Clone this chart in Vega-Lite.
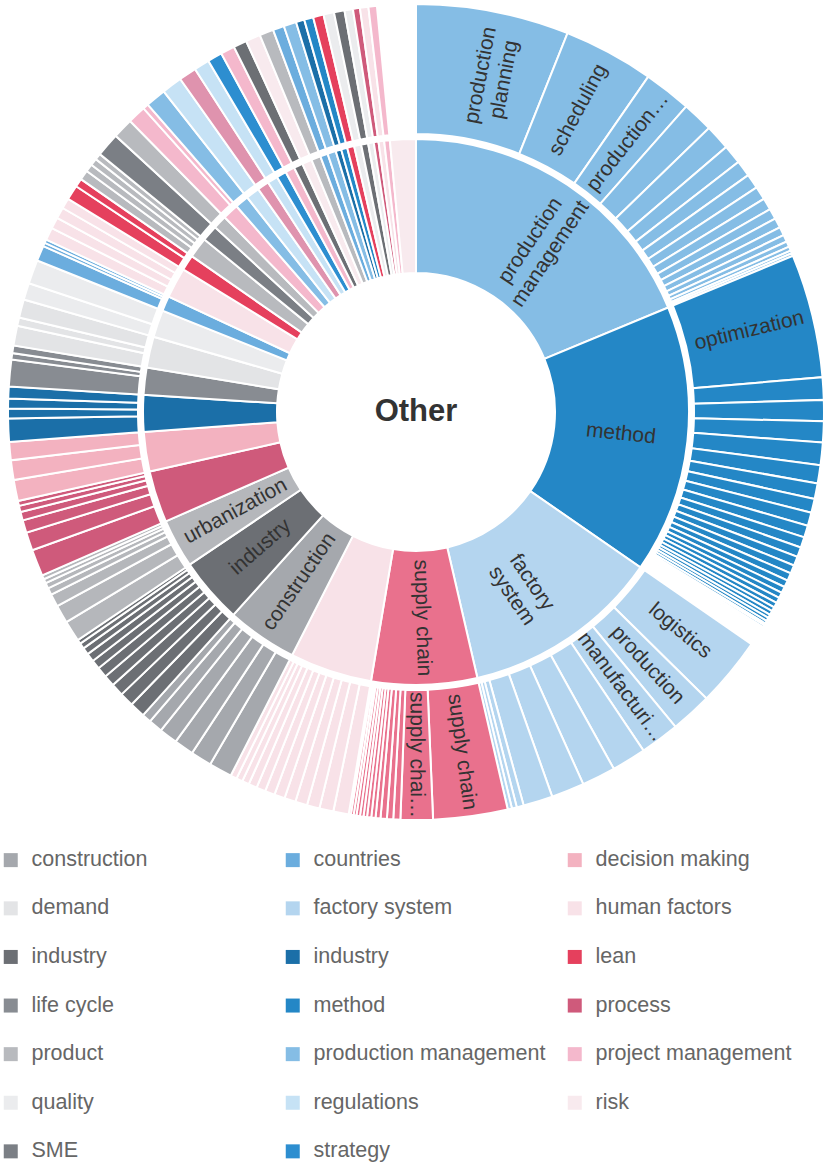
{
  "$schema": "https://vega.github.io/schema/vega-lite/v6.json",
  "width": 830,
  "height": 812,
  "padding": 0,
  "autosize": {"type": "pad"},
  "config": {"view": {"stroke": null}, "font": "Liberation Sans"},
  "datasets": {
    "parents": [
      {"p": 1, "pn": "production\nmanagement", "pk": "production management"},
      {"p": 2, "pn": "method", "pk": "method"},
      {"p": 3, "pn": "factory\nsystem", "pk": "factory system"},
      {"p": 4, "pn": "supply chain", "pk": "supply chain"},
      {"p": 5, "pn": "", "pk": "human factors"},
      {"p": 6, "pn": "construction", "pk": "construction"},
      {"p": 7, "pn": "industry", "pk": "industry"},
      {"p": 8, "pn": "urbanization", "pk": "urbanization"},
      {"p": 9, "pn": "", "pk": "process"},
      {"p": 10, "pn": "", "pk": "decision making"},
      {"p": 11, "pn": "", "pk": "industry "},
      {"p": 12, "pn": "", "pk": "life cycle"},
      {"p": 13, "pn": "", "pk": "demand"},
      {"p": 14, "pn": "", "pk": "quality"},
      {"p": 15, "pn": "", "pk": "countries"},
      {"p": 16, "pn": "", "pk": "human factors"},
      {"p": 17, "pn": "", "pk": "lean"},
      {"p": 18, "pn": "", "pk": "product"},
      {"p": 19, "pn": "", "pk": "SME"},
      {"p": 20, "pn": "", "pk": "product"},
      {"p": 21, "pn": "", "pk": "project management"},
      {"p": 22, "pn": "", "pk": "production management"},
      {"p": 23, "pn": "", "pk": "regulations"},
      {"p": 24, "pn": "", "pk": "planning"},
      {"p": 25, "pn": "", "pk": "regulations"},
      {"p": 26, "pn": "", "pk": "strategy"},
      {"p": 27, "pn": "", "pk": "project management"},
      {"p": 28, "pn": "", "pk": "industry"},
      {"p": 29, "pn": "", "pk": "risk"},
      {"p": 30, "pn": "", "pk": "product"},
      {"p": 31, "pn": "", "pk": "countries"},
      {"p": 32, "pn": "", "pk": "production management"},
      {"p": 33, "pn": "", "pk": "industry "},
      {"p": 34, "pn": "", "pk": "method"},
      {"p": 35, "pn": "", "pk": "lean"},
      {"p": 36, "pn": "", "pk": "quality"},
      {"p": 37, "pn": "", "pk": "industry"},
      {"p": 38, "pn": "", "pk": "quality"},
      {"p": 39, "pn": "", "pk": "process"},
      {"p": 40, "pn": "", "pk": "human factors"},
      {"p": 41, "pn": "", "pk": "project management"},
      {"p": 42, "pn": "", "pk": "risk"}
    ],
    "leaves": [
      {"p": 1, "n": "production\nplanning", "v": 21.8},
      {"p": 1, "n": "scheduling", "v": 12.9},
      {"p": 1, "n": "production…", "v": 6.8},
      {"p": 1, "v": 4.4}, {"p": 1, "v": 3.6}, {"p": 1, "v": 2.7}, {"p": 1, "v": 2.3}, {"p": 1, "v": 2.1},
      {"p": 1, "v": 1.9}, {"p": 1, "v": 1.7}, {"p": 1, "v": 1.5}, {"p": 1, "v": 1.4}, {"p": 1, "v": 1.2},
      {"p": 1, "v": 1.0}, {"p": 1, "v": 0.8}, {"p": 1, "v": 0.6}, {"p": 1, "v": 0.4}, {"p": 1, "v": 0.4},
      {"p": 2, "n": "optimization", "v": 17.6},
      {"p": 2, "v": 3.2}, {"p": 2, "v": 3.0}, {"p": 2, "v": 3.0}, {"p": 2, "v": 3.2}, {"p": 2, "v": 2.6},
      {"p": 2, "v": 2.2}, {"p": 2, "v": 2.0}, {"p": 2, "v": 1.9}, {"p": 2, "v": 1.7}, {"p": 2, "v": 1.5},
      {"p": 2, "v": 1.4}, {"p": 2, "v": 1.3}, {"p": 2, "v": 1.2}, {"p": 2, "v": 1.1}, {"p": 2, "v": 1.0},
      {"p": 2, "v": 0.9}, {"p": 2, "v": 0.8}, {"p": 2, "v": 0.8}, {"p": 2, "v": 0.7}, {"p": 2, "v": 0.6},
      {"p": 2, "v": 0.6}, {"p": 2, "v": 0.5}, {"p": 2, "v": 0.5}, {"p": 2, "v": 0.4}, {"p": 2, "v": 0.3},
      {"p": 2, "v": 0.3}, {"p": 2, "v": 0.2}, {"p": 2, "v": 0.2},
      {"p": 2, "gap": true, "v": 2.5},
      {"p": 3, "n": "logistics", "v": 9.9},
      {"p": 3, "n": "production", "v": 5.9},
      {"p": 3, "n": "manufacturi…", "v": 5.6},
      {"p": 3, "v": 4.9}, {"p": 3, "v": 4.8}, {"p": 3, "v": 4.7}, {"p": 3, "v": 4.2}, {"p": 3, "v": 1.0},
      {"p": 3, "v": 0.7}, {"p": 3, "v": 0.6},
      {"p": 4, "n": "supply chain", "v": 10.6},
      {"p": 4, "n": "supply chai…", "v": 4.6},
      {"p": 4, "v": 1.0}, {"p": 4, "v": 0.9}, {"p": 4, "v": 0.9}, {"p": 4, "v": 0.7}, {"p": 4, "v": 0.6},
      {"p": 4, "v": 0.6}, {"p": 4, "v": 0.5}, {"p": 4, "v": 0.5}, {"p": 4, "v": 0.5}, {"p": 4, "v": 0.4},
      {"p": 4, "v": 0.4}, {"p": 4, "v": 0.3},
      {"p": 5, "v": 2.2}, {"p": 5, "v": 2.0}, {"p": 5, "v": 1.8}, {"p": 5, "v": 1.7}, {"p": 5, "v": 1.6},
      {"p": 5, "v": 1.5}, {"p": 5, "v": 1.4}, {"p": 5, "v": 1.3}, {"p": 5, "v": 1.2}, {"p": 5, "v": 1.0},
      {"p": 5, "v": 0.9}, {"p": 5, "v": 0.9},
      {"p": 6, "v": 3.3}, {"p": 6, "v": 3.0}, {"p": 6, "v": 2.8}, {"p": 6, "v": 2.6}, {"p": 6, "v": 2.0},
      {"p": 6, "v": 1.3},
      {"p": 7, "v": 2.2}, {"p": 7, "v": 2.0}, {"p": 7, "v": 1.8}, {"p": 7, "v": 1.6}, {"p": 7, "v": 1.5},
      {"p": 7, "v": 1.3}, {"p": 7, "v": 1.2}, {"p": 7, "v": 1.0}, {"p": 7, "v": 0.8}, {"p": 7, "v": 0.6},
      {"p": 8, "v": 3.0}, {"p": 8, "v": 2.6}, {"p": 8, "v": 1.8}, {"p": 8, "v": 1.0}, {"p": 8, "v": 0.8},
      {"p": 8, "v": 0.6}, {"p": 8, "v": 0.6},
      {"p": 9, "v": 3.8}, {"p": 9, "v": 2.6}, {"p": 9, "v": 1.8}, {"p": 9, "v": 1.2}, {"p": 9, "v": 0.9},
      {"p": 9, "v": 0.7},
      {"p": 10, "v": 3.0}, {"p": 10, "v": 2.8}, {"p": 10, "v": 2.6},
      {"p": 11, "v": 3.3}, {"p": 11, "v": 1.4}, {"p": 11, "v": 1.4}, {"p": 11, "v": 1.7},
      {"p": 12, "v": 3.8}, {"p": 12, "v": 0.9}, {"p": 12, "v": 1.1},
      {"p": 13, "v": 2.8}, {"p": 13, "v": 1.2}, {"p": 13, "v": 2.6},
      {"p": 14, "v": 2.4}, {"p": 14, "v": 3.4},
      {"p": 15, "v": 2.2}, {"p": 15, "v": 0.5}, {"p": 15, "v": 0.5},
      {"p": 16, "v": 1.8}, {"p": 16, "v": 1.6}, {"p": 16, "v": 1.6}, {"p": 16, "v": 1.5},
      {"p": 17, "v": 2.1}, {"p": 17, "v": 1.2},
      {"p": 18, "v": 1.4}, {"p": 18, "v": 1.1}, {"p": 18, "v": 1.0}, {"p": 18, "v": 0.9},
      {"p": 19, "v": 3.4},
      {"p": 20, "v": 2.9},
      {"p": 21, "v": 2.6}, {"p": 21, "v": 0.8},
      {"p": 22, "v": 2.9},
      {"p": 23, "v": 2.9},
      {"p": 24, "v": 2.5},
      {"p": 25, "v": 2.2},
      {"p": 26, "v": 2.1},
      {"p": 27, "v": 2.0},
      {"p": 28, "v": 1.9},
      {"p": 29, "v": 2.1},
      {"p": 30, "v": 2.0},
      {"p": 31, "v": 1.6},
      {"p": 32, "v": 1.8},
      {"p": 33, "v": 1.2},
      {"p": 34, "v": 1.3},
      {"p": 35, "v": 1.5},
      {"p": 36, "v": 1.5},
      {"p": 37, "v": 1.5},
      {"p": 38, "v": 1.2},
      {"p": 39, "v": 1.0},
      {"p": 40, "v": 1.2},
      {"p": 41, "v": 1.2},
      {"p": 42, "gap": true, "v": 5.5}
    ]
  },
  "data": {"name": "leaves"},
  "transform": [
    {"window": [{"op": "sum", "field": "v", "as": "t1"}], "frame": [null, 0]},
    {"calculate": "datum.t1 - datum.v", "as": "t0"},
    {"joinaggregate": [{"op": "min", "field": "t0", "as": "p0"}, {"op": "max", "field": "t1", "as": "p1"}], "groupby": ["p"]},
    {"lookup": "p", "from": {"data": {"name": "parents"}, "key": "p", "fields": ["pn", "pk"]}}
  ],
  "layer": [
    {
      "transform": [{"filter": "datum.t0 == datum.p0"}],
      "mark": {"type": "arc", "innerRadius": 139, "outerRadius": 273, "stroke": "white", "strokeWidth": 2},
      "encoding": {
        "theta": {"field": "p0", "type": "quantitative", "stack": null, "scale": {"domain": [0, 360]}},
        "theta2": {"field": "p1"},
        "color": {
          "field": "pk", "type": "nominal",
          "scale": {
            "domain": ["construction", "demand", "industry", "life cycle", "product", "quality", "SME", "countries", "factory system", "industry ", "method", "production management", "regulations", "strategy", "decision making", "human factors", "lean", "process", "project management", "risk", "supply chain", "urbanization", "planning"],
            "range": ["#a5a8ad", "#e3e4e6", "#6c6f74", "#888c92", "#b8babe", "#ebecee", "#7b7f85", "#6badde", "#b4d5ef", "#1b6fa8", "#2487c6", "#85bde5", "#c6e2f5", "#2d8ed0", "#f3b2c0", "#f8e2e8", "#e5405d", "#cf5a7b", "#f4b8cc", "#f8eaee", "#e9718d", "#b5b7bb", "#df93ae"]
          },
          "legend": {
            "title": null,
            "orient": "none",
            "legendX": -1,
            "legendY": 843,
            "columns": 3,
            "gridAlign": "all",
            "columnPadding": 18,
            "rowPadding": 25.6,
            "padding": 0,
            "symbolType": "square",
            "symbolSize": 196,
            "symbolStrokeWidth": 0,
            "symbolOpacity": 1,
            "labelFont": "Liberation Sans",
            "labelFontSize": 21.5,
            "labelColor": "#666666",
            "labelOffset": 10,
            "labelLimit": 400,
            "values": ["construction", "demand", "industry", "life cycle", "product", "quality", "SME", "countries", "factory system", "industry ", "method", "production management", "regulations", "strategy", "decision making", "human factors", "lean", "process", "project management", "risk"]
          }
        }
      }
    },
    {
      "transform": [{"filter": "!datum.gap"}],
      "mark": {"type": "arc", "innerRadius": 278, "outerRadius": 408, "stroke": "white", "strokeWidth": 2},
      "encoding": {
        "theta": {"field": "t0", "type": "quantitative", "stack": null, "scale": {"domain": [0, 360]}},
        "theta2": {"field": "t1"},
        "color": {"field": "pk", "type": "nominal"}
      }
    },
    {
      "transform": [
        {"filter": "datum.t0 == datum.p0 && datum.pn"},
        {"calculate": "(datum.p0 + datum.p1) / 2", "as": "m"},
        {"calculate": "datum.m < 180.5 ? datum.m - 90 : datum.m - 270", "as": "ang"}
      ],
      "mark": {"type": "text", "radius": 206, "fontSize": 21, "fill": "#333333", "lineBreak": "\n", "lineHeight": 24, "align": "center", "baseline": "middle"},
      "encoding": {
        "theta": {"field": "m", "type": "quantitative", "stack": null, "scale": {"domain": [0, 360]}},
        "text": {"field": "pn"},
        "angle": {"field": "ang", "type": "quantitative", "scale": null}
      }
    },
    {
      "transform": [
        {"filter": "datum.n"},
        {"calculate": "(datum.t0 + datum.t1) / 2", "as": "m"},
        {"calculate": "datum.m < 180.5 ? datum.m - 90 : datum.m - 270", "as": "ang"}
      ],
      "mark": {"type": "text", "radius": 343, "fontSize": 21, "fill": "#333333", "lineBreak": "\n", "lineHeight": 24, "align": "center", "baseline": "middle"},
      "encoding": {
        "theta": {"field": "m", "type": "quantitative", "stack": null, "scale": {"domain": [0, 360]}},
        "text": {"field": "n"},
        "angle": {"field": "ang", "type": "quantitative", "scale": null}
      }
    },
    {
      "transform": [{"filter": "datum.t0 == 0"}],
      "mark": {"type": "text", "radius": 0, "text": "Other", "fontSize": 31, "fontWeight": "bold", "fill": "#333333", "align": "center", "baseline": "middle"},
      "encoding": {
        "theta": {"field": "t0", "type": "quantitative", "stack": null, "scale": {"domain": [0, 360]}}
      }
    }
  ]
}
